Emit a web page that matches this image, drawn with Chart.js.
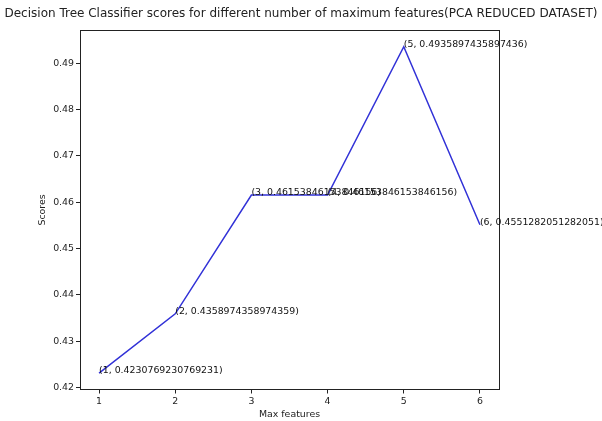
<!DOCTYPE html>
<html>
<head>
<meta charset="utf-8">
<script src="https://cdn.jsdelivr.net/npm/chart.js@4.4.1/dist/chart.umd.min.js"></script>
<style>
  html, body { margin: 0; padding: 0; background: #fff; }
  #wrap { width: 602px; height: 421px; position: relative; }
</style>
</head>
<body>
<div id="wrap"><canvas id="c" width="602" height="421"></canvas></div>
<script>
// Number of maximum features tried and the resulting classifier scores
const maxFeatures = [1, 2, 3, 4, 5, 6];
const scores = [
  0.4230769230769231,
  0.4358974358974359,
  0.46153846153846156,
  0.46153846153846156,
  0.4935897435897436,
  0.4551282051282051
];
const xTickValues = [1, 2, 3, 4, 5, 6];
const yTickValues = [0.42, 0.43, 0.44, 0.45, 0.46, 0.47, 0.48, 0.49];

const FONT = 'DejaVu Sans';
const INK = '#222';

// axis limits with a 5% margin around the data
const xPad = (Math.max(...maxFeatures) - Math.min(...maxFeatures)) * 0.05;
const yPad = (Math.max(...scores) - Math.min(...scores)) * 0.05;

// full box around the plot area
const frame = {
  id: 'frame',
  afterDatasetsDraw(chart) {
    const a = chart.chartArea, ctx = chart.ctx;
    ctx.save();
    ctx.strokeStyle = INK;
    ctx.lineWidth = 1;
    ctx.strokeRect(Math.round(a.left) + 0.5, Math.round(a.top) + 0.5,
                   Math.round(a.right - a.left), Math.round(a.bottom - a.top));
    ctx.restore();
  }
};

// "(x, y)" label written at every point of the line
const pointLabels = {
  id: 'pointLabels',
  afterDatasetsDraw(chart) {
    const ctx = chart.ctx;
    const meta = chart.getDatasetMeta(0);
    ctx.save();
    ctx.font = '9.4px "' + FONT + '"';
    ctx.fillStyle = '#111';
    ctx.textAlign = 'left';
    ctx.textBaseline = 'alphabetic';
    meta.data.forEach((pt, i) => {
      ctx.fillText('(' + maxFeatures[i] + ', ' + String(scores[i]) + ')', pt.x, pt.y);
    });
    ctx.restore();
  }
};

new Chart(document.getElementById('c'), {
  type: 'line',
  data: {
    datasets: [{
      data: maxFeatures.map((x, i) => ({ x: x, y: scores[i] })),
      borderColor: 'rgb(50,50,215)',
      borderWidth: 1.5,
      pointRadius: 0,
      tension: 0,
      fill: false
    }]
  },
  options: {
    responsive: false,
    animation: false,
    devicePixelRatio: 1,
    layout: { padding: 0 },
    plugins: {
      legend: { display: false },
      tooltip: { enabled: false },
      title: {
        display: true,
        text: 'Decision Tree Classifier scores for different number of maximum features(PCA REDUCED DATASET)',
        color: INK,
        font: { family: FONT, size: 12, weight: 'normal' },
        padding: { top: 7, bottom: 9 }
      }
    },
    scales: {
      x: {
        type: 'linear',
        min: Math.min(...maxFeatures) - xPad,
        max: Math.max(...maxFeatures) + xPad,
        afterBuildTicks(s) { s.ticks = xTickValues.map(v => ({ value: v })); },
        afterFit(s) { s.height = 31.5; },
        ticks: {
          color: INK,
          font: { family: FONT, size: 9.4 },
          padding: 2,
          callback: v => String(v)
        },
        grid: { drawOnChartArea: false, drawTicks: true, tickLength: 4, color: INK },
        border: { display: true, color: INK },
        title: {
          display: true,
          text: 'Max features',
          color: INK,
          font: { family: FONT, size: 9.4 },
          padding: { top: 0, bottom: 1 }
        }
      },
      y: {
        type: 'linear',
        min: Math.min(...scores) - yPad,
        max: Math.max(...scores) + yPad,
        afterBuildTicks(s) { s.ticks = yTickValues.map(v => ({ value: v })); },
        afterFit(s) { s.width = 80; },
        ticks: {
          color: INK,
          font: { family: FONT, size: 9.4 },
          padding: 2,
          callback: v => v.toFixed(2)
        },
        grid: { drawOnChartArea: false, drawTicks: true, tickLength: 4, color: INK },
        border: { display: true, color: INK },
        title: {
          display: true,
          text: 'Scores',
          color: INK,
          font: { family: FONT, size: 9.4 },
          padding: { top: 37, bottom: 0 }
        }
      },
      // empty right-hand axis that only reserves the blank margin beside the plot
      yRight: {
        type: 'linear',
        position: 'right',
        min: 0,
        max: 1,
        afterFit(s) { s.width = 103; },
        ticks: { display: false },
        grid: { display: false, drawTicks: false },
        border: { display: false }
      }
    }
  },
  plugins: [frame, pointLabels]
});
</script>
</body>
</html>
